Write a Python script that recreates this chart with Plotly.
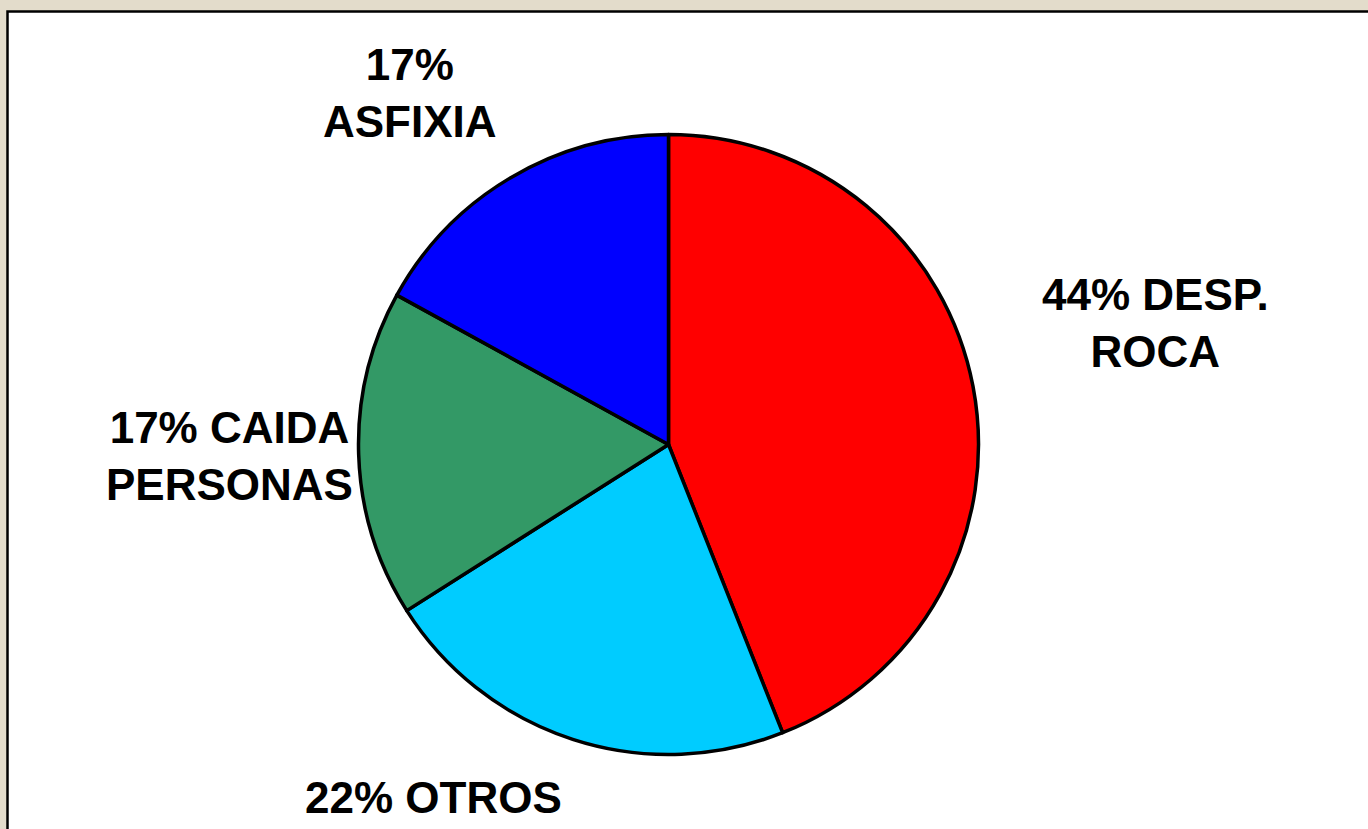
import plotly.graph_objects as go

categories = ["DESP. ROCA", "OTROS", "CAIDA PERSONAS", "ASFIXIA"]
values = [44, 22, 17, 17]
colors = ["#FF0000", "#00CCFF", "#339966", "#0000FF"]
label_texts = ["44% DESP.<br>ROCA", "22% OTROS", "17% CAIDA<br>PERSONAS", "17%<br>ASFIXIA"]
label_pos = [(1155, 323), (433, 797), (229, 456), (410, 93)]

W, H = 1368, 829
cx, cy, r = 668.5, 444.5, 310

fig = go.Figure(go.Pie(
    labels=categories,
    values=values,
    sort=False,
    direction="clockwise",
    rotation=0,
    textinfo="none",
    hoverinfo="label+percent",
    marker=dict(colors=colors, line=dict(color="black", width=3.5)),
    domain=dict(x=[(cx - r) / W, (cx + r) / W], y=[(H - cy - r) / H, (H - cy + r) / H]),
    showlegend=False,
))

# white panel with black border over beige background
fig.add_shape(type="rect", xref="paper", yref="paper",
              x0=7.5 / W, x1=1.02, y0=-0.02, y1=(H - 11.5) / H,
              fillcolor="white", line=dict(color="black", width=2.5), layer="below")

for txt, (x, y) in zip(label_texts, label_pos):
    fig.add_annotation(x=x / W, y=(H - y) / H, xref="paper", yref="paper",
                       text=txt, showarrow=False, xanchor="center", yanchor="middle",
                       align="center",
                       font=dict(family="Liberation Sans, Arial, sans-serif", size=44, color="black", weight="bold"))

fig.update_layout(
    width=W, height=H,
    margin=dict(l=0, r=0, t=0, b=0),
    paper_bgcolor="#E3DCCB",
    plot_bgcolor="white",
)

fig.write_html("out.html",
               config={"displayModeBar": False},
               post_script="document.body.style.margin='0';document.body.style.overflow='hidden';document.body.style.background='#E3DCCB';")
